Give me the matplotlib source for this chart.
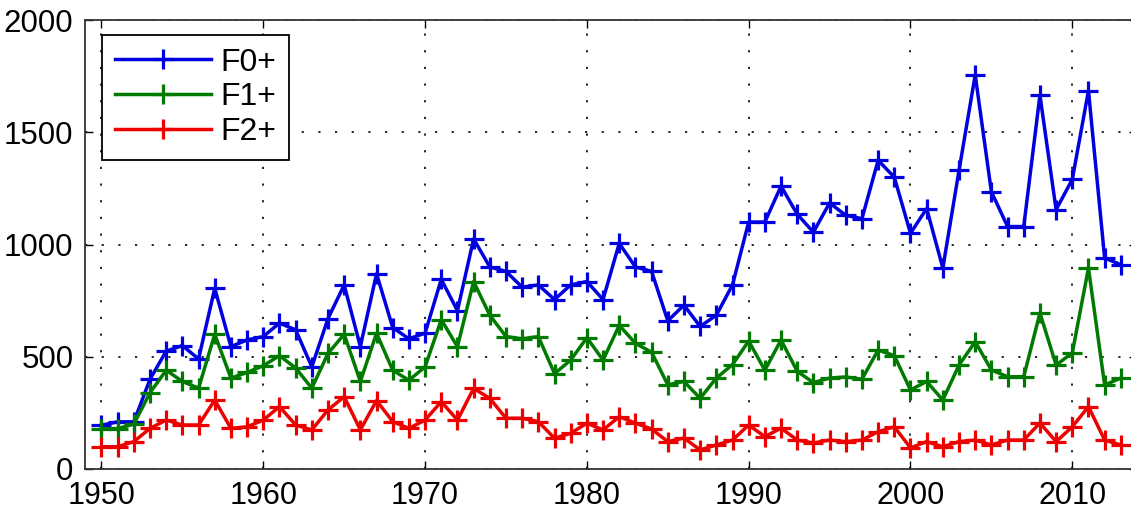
import numpy as np
import matplotlib
matplotlib.use("Agg")
import matplotlib.pyplot as plt

plt.rcParams['font.family'] = ['Liberation Sans', 'DejaVu Sans']

# Yearly tornado counts by rating threshold
years = np.arange(1950, 2014)

f0_plus = [195, 210, 210, 400, 525, 550, 490, 805, 545, 575,
           590, 650, 620, 455, 670, 820, 545, 870, 630, 580,
           605, 845, 705, 1025, 900, 880, 810, 820, 755, 820,
           835, 755, 1005, 900, 880, 660, 730, 635, 685, 820,
           1100, 1100, 1260, 1135, 1055, 1185, 1130, 1115, 1375, 1300,
           1050, 1160, 895, 1330, 1755, 1235, 1080, 1080, 1665, 1155,
           1290, 1685, 940, 910]

f1_plus = [180, 180, 200, 340, 440, 390, 360, 600, 405, 430,
           460, 505, 450, 360, 515, 600, 390, 605, 440, 395,
           455, 665, 545, 835, 685, 590, 580, 590, 425, 485,
           585, 485, 640, 560, 520, 375, 390, 315, 405, 465,
           570, 440, 575, 435, 385, 405, 410, 400, 530, 505,
           352, 390, 307, 463, 567, 441, 411, 411, 695, 463,
           517, 895, 374, 405]

f2_plus = [99, 99, 122, 181, 218, 196, 196, 307, 181, 188,
           218, 278, 196, 174, 263, 322, 174, 305, 211, 181,
           218, 300, 218, 359, 315, 226, 226, 211, 137, 159,
           204, 174, 233, 204, 178, 122, 138, 85, 107, 129,
           196, 144, 182, 129, 116, 129, 122, 129, 166, 188,
           94, 122, 99, 122, 129, 107, 129, 129, 205, 122,
           188, 278, 129, 107]

labels = ['F0+', 'F1+', 'F2+']
colors = ['#0000e0', '#007a00', '#ee0000']

fig = plt.figure(figsize=(11.31, 5.12), dpi=100)
ax = fig.add_axes([85.3 / 1131, 43 / 512, 1051.7 / 1131, 449 / 512])

for series, lab, col in zip([f0_plus, f1_plus, f2_plus], labels, colors):
    ax.plot(years, series, color=col, lw=2.5, marker='+', ms=14, mew=2.3,
            label=lab)

ax.set_xlim(1949, 2014)
ax.set_ylim(0, 2000)
ax.set_xticks(np.arange(1950, 2011, 10))
ax.set_yticks(np.arange(0, 2001, 500))

ax.grid(True, color='black', linestyle=(0, (1.3, 8.7)), linewidth=1.2)
ax.tick_params(direction='in', length=6, width=1, top=True, right=True,
               labelsize=22.5, colors='black')
ax.tick_params(axis='x', pad=9, labelsize=22)
ax.tick_params(axis='y', pad=8.5)
for sp in ax.spines.values():
    sp.set_linewidth(1.3)
    sp.set_color('#333333')

leg = ax.legend(loc='upper left', bbox_to_anchor=(0.016, 0.967),
                borderaxespad=0, fontsize=23, handlelength=3.0,
                labelspacing=0.15, fancybox=False, framealpha=1,
                edgecolor='black', borderpad=0.4, handletextpad=0.3)
leg.get_frame().set_linewidth(1.3)

fig.savefig('out.png', dpi=100)
